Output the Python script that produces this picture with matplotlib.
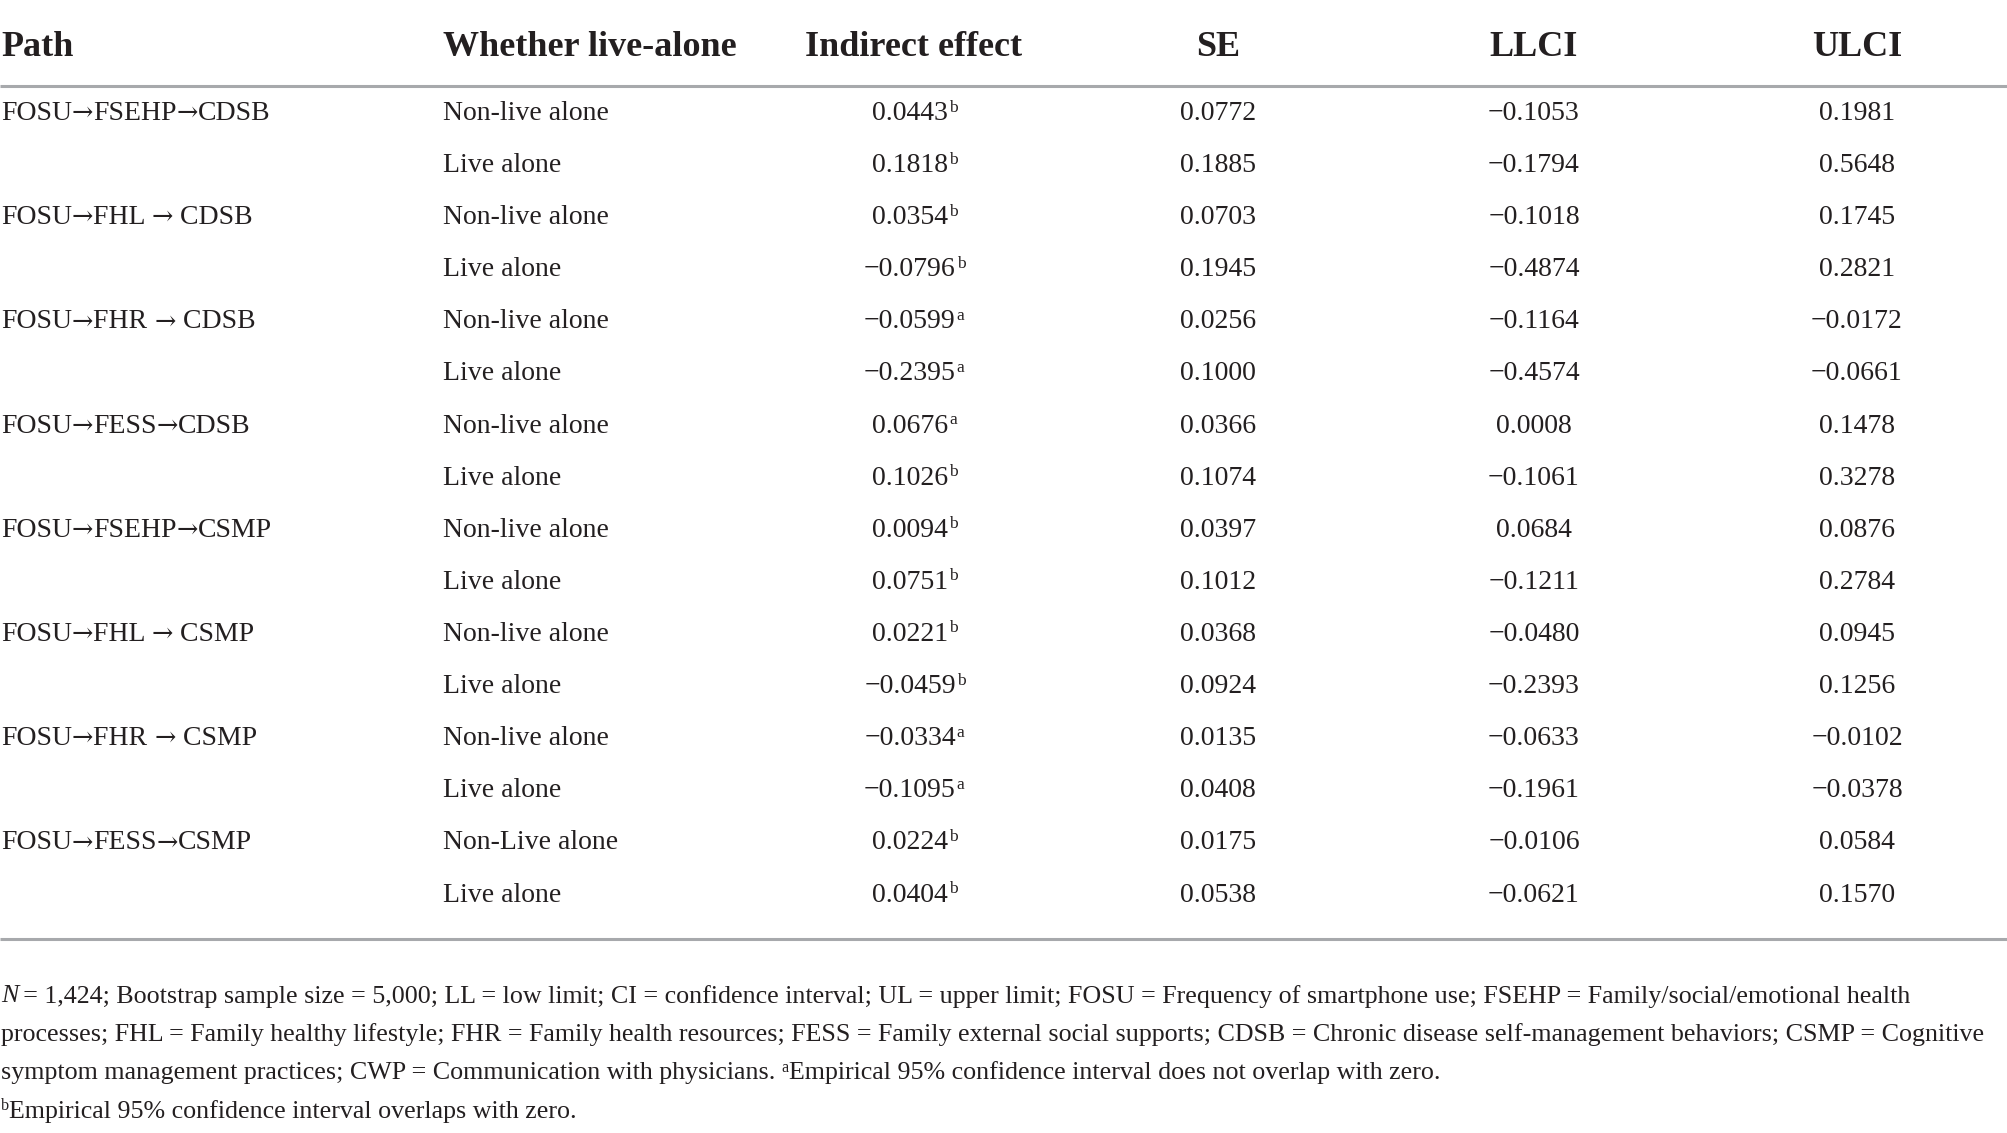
import matplotlib
matplotlib.use("Agg")
import matplotlib.pyplot as plt

plt.rcParams['font.family'] = ['Liberation Serif', 'DejaVu Serif']

TEXT = "#231f20"
RULE = "#a7a9ac"

headers = ["Path", "Whether live-alone", "Indirect effect", "SE", "LLCI", "ULCI"]
paths = ["FOSU\u2192FSEHP\u2192CDSB", "", "FOSU\u2192FHL \u2192 CDSB", "",
         "FOSU\u2192FHR \u2192 CDSB", "", "FOSU\u2192FESS\u2192CDSB", "",
         "FOSU\u2192FSEHP\u2192CSMP", "", "FOSU\u2192FHL \u2192 CSMP", "",
         "FOSU\u2192FHR \u2192 CSMP", "", "FOSU\u2192FESS\u2192CSMP", ""]
live = ["Non-live alone", "Live alone"] * 7 + ["Non-Live alone", "Live alone"]
indirect = ["0.0443", "0.1818", "0.0354", "\u22120.0796", "\u22120.0599", "\u22120.2395",
            "0.0676", "0.1026", "0.0094", "0.0751", "0.0221", "\u22120.0459",
            "\u22120.0334", "\u22120.1095", "0.0224", "0.0404"]
sig = ["b", "b", "b", "b", "a", "a", "a", "b", "b", "b", "b", "b", "a", "a", "b", "b"]
se = ["0.0772", "0.1885", "0.0703", "0.1945", "0.0256", "0.1000", "0.0366", "0.1074",
      "0.0397", "0.1012", "0.0368", "0.0924", "0.0135", "0.0408", "0.0175", "0.0538"]
llci = ["\u22120.1053", "\u22120.1794", "\u22120.1018", "\u22120.4874", "\u22120.1164",
        "\u22120.4574", "0.0008", "\u22120.1061", "0.0684", "\u22120.1211", "\u22120.0480",
        "\u22120.2393", "\u22120.0633", "\u22120.1961", "\u22120.0106", "\u22120.0621"]
ulci = ["0.1981", "0.5648", "0.1745", "0.2821", "\u22120.0172", "\u22120.0661", "0.1478",
        "0.3278", "0.0876", "0.2784", "0.0945", "0.1256", "\u22120.0102", "\u22120.0378",
        "0.0584", "0.1570"]

# footnote lines as segments: (text, style) with style "n" normal, "i" italic, "s" superscript
footnotes = [
    [("N", "i"), ("\u2009= 1,424; Bootstrap sample size = 5,000; LL = low limit; CI = confidence interval; UL = upper limit; FOSU = Frequency of smartphone use; FSEHP = Family/social/emotional health", "n")],
    [("processes; FHL = Family healthy lifestyle; FHR = Family health resources; FESS = Family external social supports; CDSB = Chronic disease self-management behaviors; CSMP = Cognitive", "n")],
    [("symptom management practices; CWP = Communication with physicians. ", "n"), ("a", "s"),
     ("Empirical 95% confidence interval does not overlap with zero.", "n")],
    [("b", "s"), ("Empirical 95% confidence interval overlaps with zero.", "n")],
]

W, H = 2008, 1133
fig = plt.figure(figsize=(W / 100, H / 100), dpi=100)
ax = fig.add_axes([0, 0, 1, 1])
ax.set_xlim(0, W)
ax.set_ylim(H, 0)
ax.axis("off")

col_x = [1, 443, 914, 1218, 1534, 1857]
col_ha = ["left", "left", "center", "center", "center", "center"]
head_base = 56
row0, row_step = 120, 52.1   # baselines
body_fs = 20
head_fs = 26
sup_fs = 12.5
foot_fs = 18.7


def chain(x, y, parts):
    """Place text pieces one after another on a shared baseline."""
    prev = None
    for s, kw in parts:
        if prev is None:
            prev = ax.text(x, y, s, ha="left", va="baseline", color=TEXT, **kw)
        else:
            prev = ax.annotate(s, xy=(1, y), xycoords=(prev, "data"), ha="left",
                               va="baseline", color=TEXT, **kw)
    return prev


def path_parts(p):
    parts = []
    pieces = p.split("\u2192")
    for n, piece in enumerate(pieces):
        if piece:
            parts.append((piece, dict(fontsize=body_fs)))
        if n < len(pieces) - 1:
            parts.append(("\u2192", dict(fontsize=body_fs * 0.92, family="DejaVu Serif")))
    return parts


for x, ha, h in zip(col_x, col_ha, headers):
    ax.text(x, head_base, h, ha=ha, va="baseline", fontsize=head_fs, fontweight="bold", color=TEXT)

ax.plot([0, W], [86, 86], color=RULE, lw=2.2, solid_capstyle="butt")

for i in range(len(live)):
    y = row0 + i * row_step
    if paths[i]:
        chain(col_x[0], y, path_parts(paths[i]))
    ax.text(col_x[1], y, live[i], ha="left", va="baseline", fontsize=body_fs, color=TEXT)
    t = ax.text(col_x[2] - 4, y, indirect[i], ha="center", va="baseline", fontsize=body_fs, color=TEXT)
    ax.annotate(sig[i], xy=(1, y - 8.5), xycoords=(t, "data"), xytext=(0.6, 0),
                textcoords="offset points", ha="left", va="baseline",
                fontsize=sup_fs, color=TEXT)
    for x, c in zip(col_x[3:], [se[i], llci[i], ulci[i]]):
        ax.text(x, y, c, ha="center", va="baseline", fontsize=body_fs, color=TEXT)

ax.plot([0, W], [939, 939], color=RULE, lw=2.2, solid_capstyle="butt")

for k, segs in enumerate(footnotes):
    y = 1002.5 + k * 38.5
    prev = None
    for s, style in segs:
        fs = foot_fs * 0.62 if style == "s" else foot_fs
        yy = y - 8 if style == "s" else y
        kw = dict(fontsize=fs, color=TEXT, va="baseline", ha="left",
                  fontstyle="italic" if style == "i" else "normal")
        if prev is None:
            art = ax.text(1, yy, s, **kw)
        else:
            art = ax.annotate(s, xy=(1, yy), xycoords=(prev, "data"), **kw)
        prev = art

fig.savefig("out.png", dpi=100)
